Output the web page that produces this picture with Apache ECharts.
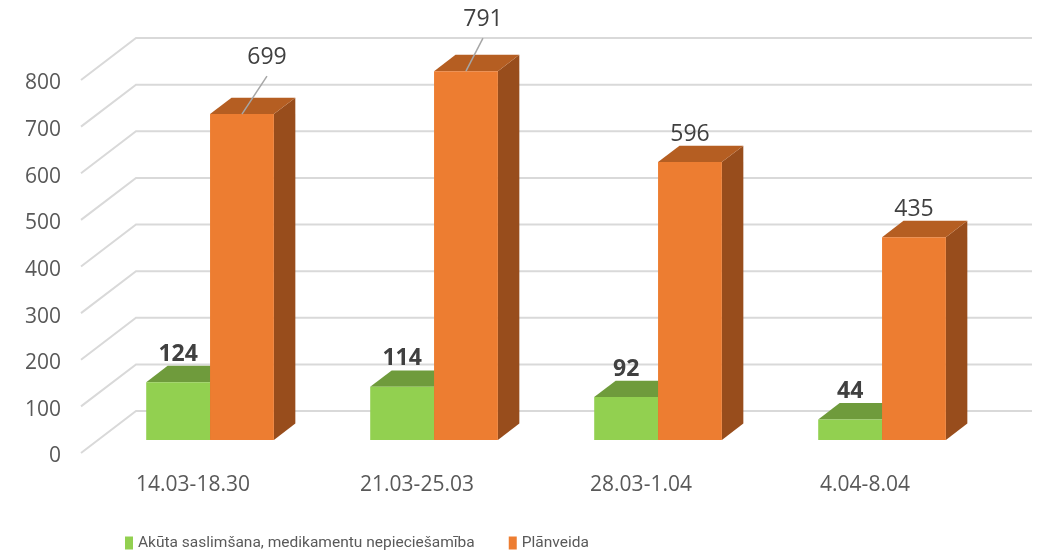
<!DOCTYPE html>
<html>
<head>
<meta charset="utf-8">
<script src="https://cdn.jsdelivr.net/npm/echarts@6/dist/echarts.min.js"></script>
<style>
  html, body { margin: 0; padding: 0; background: #fff; }
  #chart { width: 1041px; height: 557px; }
</style>
</head>
<body>
<div id="chart"></div>
<script>
const weeks = ['14.03-18.30', '21.03-25.03', '28.03-1.04', '4.04-8.04'];
const acute = [124, 114, 92, 44];
const planned = [699, 791, 596, 435];
const yTicks = [0, 100, 200, 300, 400, 500, 600, 700, 800];
const seriesNames = ['Akūta saslimšana, medikamentu nepieciešamība', 'Plānveida'];

// labels that were dragged away from their bar in the original (dx, dy)
const plannedLabelShift = [[25, -29], [17, -24], null, null];

// fake 3d: floor depth vector and where the bars sit inside it
const DEPTH = [55, -42];
const BAR_FRONT = 0.31;
const BAR_BACK = 0.70;
const BAR_W = 0.285;

const chart = echarts.init(document.getElementById('chart'));

function gridRenderer(params, api) {
  const cs = params.coordSys;
  const y = api.coord([0, api.value(1)])[1];
  const left = cs.x, right = cs.x + cs.width;
  return {
    type: 'polyline',
    shape: {
      points: [
        [left, y],
        [left + DEPTH[0], y + DEPTH[1]],
        [right + DEPTH[0], y + DEPTH[1]],
      ],
    },
    style: { stroke: '#D9D9D9', lineWidth: 2, fill: null },
    silent: true,
  };
}

function barRenderer(side, colors, font, shifts) {
  return function (params, api) {
    const idx = api.value(0);
    const val = api.value(1);
    const base = api.coord([idx, 0]);
    const top = api.coord([idx, val]);
    const bw = api.size([1, 0])[0] * BAR_W;
    const fx = DEPTH[0] * BAR_FRONT, fy = DEPTH[1] * BAR_FRONT;
    const dx = DEPTH[0] * (BAR_BACK - BAR_FRONT);
    const dy = DEPTH[1] * (BAR_BACK - BAR_FRONT);
    const x0 = base[0] + fx + (side ? 0 : -bw);
    const x1 = x0 + bw;
    const yb = base[1] + fy;
    const yt = top[1] + fy;

    const children = [
      {
        type: 'polygon',
        shape: { points: [[x1, yt], [x1 + dx, yt + dy], [x1 + dx, yb + dy], [x1, yb]] },
        style: { fill: colors.side },
      },
      {
        type: 'polygon',
        shape: { points: [[x0, yt], [x1, yt], [x1 + dx, yt + dy], [x0 + dx, yt + dy]] },
        style: { fill: colors.top },
      },
      {
        type: 'rect',
        shape: { x: x0, y: yt, width: bw, height: yb - yt },
        style: { fill: colors.front },
      },
    ];

    const cx = (x0 + x1) / 2;
    let lx = cx, ly = yt - 28;
    const sh = shifts && shifts[params.dataIndex];
    if (sh) {
      lx += sh[0];
      ly += sh[1];
      children.push({
        type: 'line',
        shape: { x1: lx, y1: ly + 19, x2: cx, y2: yt },
        style: { stroke: '#A6A6A6', lineWidth: 1.5 },
      });
    }
    children.push({
      type: 'text',
      style: {
        text: String(val),
        x: lx,
        y: ly,
        align: 'center',
        verticalAlign: 'middle',
        fill: '#404040',
        font: font,
      },
    });
    return { type: 'group', children: children };
  };
}

const option = {
  animation: false,
  grid: { left: 81, right: 64, top: 80, bottom: 104 },
  legend: {
    data: seriesNames,
    left: 120,
    top: 530,
    icon: 'rect',
    itemWidth: 8,
    itemHeight: 13,
    itemGap: 34,
    textStyle: {
      fontFamily: 'Roboto',
      fontSize: 15.5,
      color: '#595959',
    },
  },
  xAxis: {
    type: 'category',
    data: weeks,
    axisLine: { show: false },
    axisTick: { show: false },
    axisLabel: { margin: 22, fontSize: 21, color: '#595959', fontFamily: 'Open Sans' },
  },
  yAxis: {
    type: 'value',
    min: 0,
    max: 800,
    interval: 100,
    splitLine: { show: false },
    axisLine: { show: false },
    axisTick: { show: false },
    axisLabel: {
      margin: 20,
      formatter: '{n|{value}}',
      rich: {
        n: {
          fontSize: 21,
          color: '#595959',
          fontFamily: 'Open Sans',
          padding: [7, 0, 0, 0],
        },
      },
    },
  },
  series: [
    {
      type: 'custom',
      name: 'grid',
      silent: true,
      z: 1,
      renderItem: gridRenderer,
      encode: { x: 0, y: 1 },
      data: yTicks.map(v => [0, v]),
    },
    {
      type: 'custom',
      name: seriesNames[0],
      z: 2,
      itemStyle: { color: '#92D050' },
      renderItem: barRenderer(0, { front: '#92D050', top: '#6F9B3C', side: '#5E8433' },
        "bold 23px 'Open Sans'", null),
      encode: { x: 0, y: 1 },
      data: acute.map((v, i) => [i, v]),
    },
    {
      type: 'custom',
      name: seriesNames[1],
      z: 3,
      itemStyle: { color: '#ED7D31' },
      renderItem: barRenderer(1, { front: '#ED7D31', top: '#B55E22', side: '#984D1C' },
        "23px 'Open Sans'", plannedLabelShift),
      encode: { x: 0, y: 1 },
      data: planned.map((v, i) => [i, v]),
    },
  ],
};

chart.setOption(option);
</script>
</body>
</html>
